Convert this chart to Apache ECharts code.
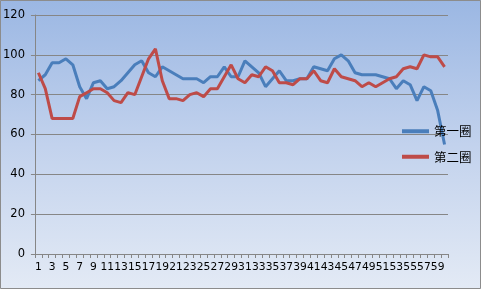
<!DOCTYPE html>
<html>
<head>
<meta charset="utf-8">
<script src="https://cdn.jsdelivr.net/npm/echarts@6/dist/echarts.min.js"></script>
<style>html,body{margin:0;padding:0;}#c{width:481px;height:289px;}</style>
</head>
<body>
<div id="c"></div>
<script>
var categories = [];
for (var k = 1; k <= 60; k++) categories.push(String(k));
var seriesNames = ['第一圈', '第二圈'];
var lap1 = [87,90,96,96,98,95,84,78,86,87,83,84,87,91,95,97,91,89,94,92,90,88,88,88,86,89,89,94,89,89,97,94,91,84,88,92,87,87,88,88,94,93,92,98,100,97,91,90,90,90,89,88,83,87,85,77,84,82,72,55];
var lap2 = [91,83,68,68,68,68,79,81,83,83,81,77,76,81,80,89,98,103,87,78,78,77,80,81,79,83,83,89,95,88,86,90,89,94,92,86,86,85,88,88,92,87,86,93,89,88,87,84,86,84,86,88,89,93,94,93,100,99,99,94];
var yMin = 0, yMax = 120, yStep = 20;

var chart = echarts.init(document.getElementById('c'), null, {renderer: 'canvas'});
chart.setOption({
  animation: false,
  backgroundColor: {type: 'linear', x: 0, y: 0, x2: 0, y2: 1,
    colorStops: [{offset: 0, color: '#9bb7e3'}, {offset: 0.5, color: '#c2d2ed'}, {offset: 1, color: '#e3eaf5'}]},
  graphic: [{type: 'rect', shape: {x: 0.5, y: 0.5, width: 480, height: 288}, style: {fill: 'none', stroke: '#8c8c8c', lineWidth: 1}, silent: true}],
  grid: {left: 34, right: 33, top: 15, bottom: 35},
  legend: {
    orient: 'vertical', left: 397, top: 120, itemWidth: 27, itemHeight: 4, itemGap: 13,
    icon: 'rect',
    textStyle: {fontFamily: 'Noto Sans CJK SC', fontSize: 12.5, color: '#000'},
    data: seriesNames
  },
  xAxis: {
    type: 'category', data: categories, boundaryGap: true,
    axisLine: {lineStyle: {color: '#868686'}},
    axisTick: {show: true, interval: 0, length: 4, lineStyle: {color: '#868686'}},
    axisLabel: {interval: 1, color: '#000', fontFamily: 'DejaVu Sans', fontSize: 10.7, margin: 8}
  },
  yAxis: {
    type: 'value', min: yMin, max: yMax, interval: yStep,
    axisLine: {show: true, lineStyle: {color: '#868686'}},
    axisTick: {show: true, length: 4, lineStyle: {color: '#868686'}},
    axisLabel: {color: '#000', fontFamily: 'DejaVu Sans', fontSize: 11.5, margin: 10},
    splitLine: {lineStyle: {color: '#868686', width: 1}}
  },
  series: [
    {name: seriesNames[0], type: 'line', data: lap1, showSymbol: false, symbol: 'none', lineStyle: {width: 3, color: '#4a7ebb'}, itemStyle: {color: '#4a7ebb'}},
    {name: seriesNames[1], type: 'line', data: lap2, showSymbol: false, symbol: 'none', lineStyle: {width: 3, color: '#be4b48'}, itemStyle: {color: '#be4b48'}}
  ]
});
</script>
</body>
</html>
